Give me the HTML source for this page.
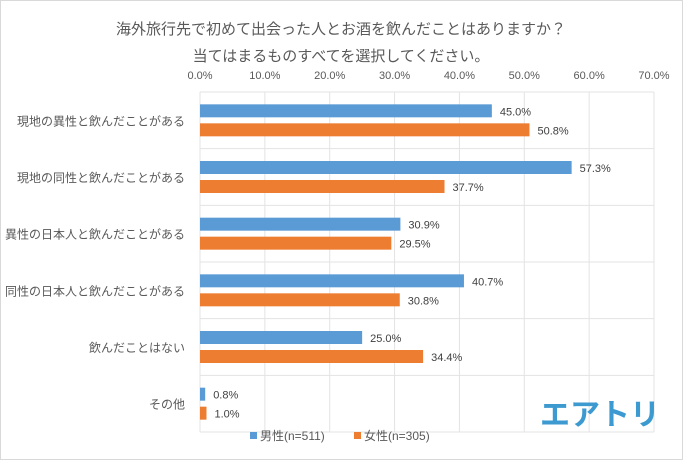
<!DOCTYPE html>
<html><head><meta charset="utf-8">
<style>
html,body{margin:0;padding:0;background:#fff;}
svg{display:block;font-family:"Liberation Sans","Noto Sans CJK JP",sans-serif;}
</style></head>
<body>
<svg id="chart" width="683" height="460">
<rect x="0.5" y="0.5" width="682" height="459" fill="#fff" stroke="#d9d9d9"/>
<text x="341" y="34" text-anchor="middle" font-size="15" fill="#595959">海外旅行先で初めて出会った人とお酒を飲んだことはありますか？</text>
<text x="341" y="61" text-anchor="middle" font-size="15" fill="#595959">当てはまるものすべてを選択してください。</text>
<g id="grid"></g>
<g id="bars"></g>
<g id="legend">
<rect x="250" y="432" width="7" height="7" fill="#5b9bd5"/>
<text x="260" y="440" font-size="12" fill="#595959">男性(n=511)</text>
<rect x="354" y="432" width="7" height="7" fill="#ed7d31"/>
<text x="364" y="440" font-size="12" fill="#595959">女性(n=305)</text>
</g>
<text x="600" y="425" text-anchor="middle" font-size="30" font-weight="bold" fill="#3d9ad1">エアトリ</text>
</svg>
<script>
const categories=["現地の異性と飲んだことがある","現地の同性と飲んだことがある","異性の日本人と飲んだことがある","同性の日本人と飲んだことがある","飲んだことはない","その他"];
const maleValues=[45.0,57.3,30.9,40.7,25.0,0.8];
const femaleValues=[50.8,37.7,29.5,30.8,34.4,1.0];
const tickValues=[0,10,20,30,40,50,60,70];
const tickLabels=["0.0%","10.0%","20.0%","30.0%","40.0%","50.0%","60.0%","70.0%"];

const NS="http://www.w3.org/2000/svg";
const X0=200,X1=654,Y0=92,Y1=432,XMAX=70;
const xs=v=>X0+(v/XMAX)*(X1-X0);
const band=(Y1-Y0)/categories.length;
const yc=i=>Y0+band*(i+0.5);
function mk(tag,attrs,parent){const e=document.createElementNS(NS,tag);for(const k in attrs)e.setAttribute(k,attrs[k]);parent.appendChild(e);return e;}
const grid=document.getElementById('grid'),bars=document.getElementById('bars');
tickValues.forEach((v,i)=>{
  const l=mk('line',{x1:xs(v),x2:xs(v),y1:Y0,y2:Y1,stroke:'#e3e3e3'},grid);
  
  
  const t=mk('text',{x:xs(v),y:79,'text-anchor':'middle','font-size':11,fill:'#595959'},grid);
  t.textContent=tickLabels[i];
  
  
});
for(let i=0;i<=categories.length;i++){
  const y=Y0+band*i;
  const l=mk('line',{x1:X0,x2:X1,y1:y,y2:y,stroke:'#e3e3e3'},grid);
  
  
}
const bh=13;
categories.forEach((c,i)=>{
  const y=yc(i);
  const t=mk('text',{x:185,y:y+5,'text-anchor':'end','font-size':12,fill:'#595959'},bars);
  t.textContent=c;
  
  
  const bm=mk('rect',{x:X0,y:y-bh-3,width:xs(maleValues[i])-X0,height:bh,fill:'#5b9bd5'},bars);
  
  
  const lm=mk('text',{x:xs(maleValues[i])+8,y:y-5,'font-size':11,fill:'#404040'},bars);
  lm.textContent=maleValues[i].toFixed(1)+"%";
  
  
  const bf=mk('rect',{x:X0,y:y+3,width:xs(femaleValues[i])-X0,height:bh,fill:'#ed7d31'},bars);
  
  
  const lf=mk('text',{x:xs(femaleValues[i])+8,y:y+14,'font-size':11,fill:'#404040'},bars);
  lf.textContent=femaleValues[i].toFixed(1)+"%";
  
  
});
</script>
</body></html>
